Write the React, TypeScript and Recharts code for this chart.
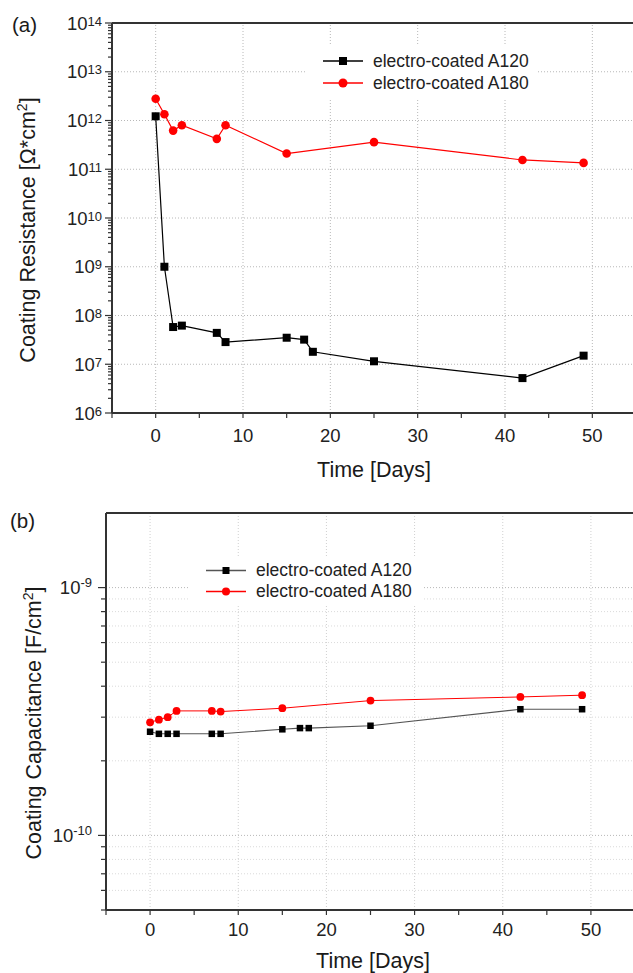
import React from 'react';
import { LineChart, Line, XAxis, YAxis, ReferenceLine, Legend } from 'recharts';

const FONT = '"Liberation Sans", Arial, Helvetica, sans-serif';

// measurement days
const daysA120 = [0, 1, 2, 3, 7, 8, 15, 17, 18, 25, 42, 49];
const daysA180 = [0, 1, 2, 3, 7, 8, 15, 25, 42, 49];

// (a) coating resistance, Ohm*cm^2
const resistanceA120 = [1.22e12, 1.0e9, 5.8e7, 6.2e7, 4.4e7, 2.85e7, 3.5e7, 3.2e7, 1.8e7, 1.15e7, 5.2e6, 1.5e7];
const resistanceA180 = [2.8e12, 1.34e12, 6.2e11, 8.0e11, 4.2e11, 8.0e11, 2.1e11, 3.6e11, 1.55e11, 1.35e11];

// (b) coating capacitance, F/cm^2
const capacitanceA120 = [2.62e-10, 2.57e-10, 2.57e-10, 2.57e-10, 2.57e-10, 2.57e-10, 2.68e-10, 2.71e-10, 2.71e-10, 2.77e-10, 3.23e-10, 3.23e-10];
const capacitanceA180 = [2.86e-10, 2.93e-10, 3.0e-10, 3.18e-10, 3.18e-10, 3.16e-10, 3.26e-10, 3.5e-10, 3.62e-10, 3.68e-10];

const dayTicks = [-5, 0, 5, 10, 15, 20, 25, 30, 35, 40, 45, 50, 55];
const dayLabels = [0, 10, 20, 30, 40, 50];
const resistanceDecades = [1e6, 1e7, 1e8, 1e9, 1e10, 1e11, 1e12, 1e13, 1e14];
const minorSteps = [2, 3, 4, 5, 6, 7, 8, 9];
const capacitanceDecades = [1e-10, 1e-9];
const capacitanceMinor = [5e-11, 6e-11, 7e-11, 8e-11, 9e-11, 2e-10, 3e-10, 4e-10, 5e-10, 6e-10, 7e-10, 8e-10, 9e-10];

const legendNames = ['electro-coated A120', 'electro-coated A180'];

const resistanceMinor = resistanceDecades.slice(0, -1).flatMap(d => minorSteps.map(m => d * m));
const resistanceTicks = [...resistanceDecades, ...resistanceMinor].sort((a, b) => a - b);
const capacitanceTicks = [...capacitanceDecades, ...capacitanceMinor].sort((a, b) => a - b);

const toPoints = (days: number[], values: number[]) => days.map((day, i) => ({ day, value: values[i] }));

const isDecade = (v: number) => Math.abs(Math.log10(v) - Math.round(Math.log10(v))) < 1e-6;

function PowerTick(props: any) {
  const { x, y, payload, majorLen, minorLen, gap, supShift } = props;
  const v = payload.value;
  const major = isDecade(v);
  return (
    <g>
      <line x1={x} x2={x - (major ? majorLen : minorLen)} y1={y} y2={y} stroke="#333" strokeWidth={1.2} />
      {major && (
        <text x={x - gap} y={y + 6.5} textAnchor="end" fontSize={18.5} fill="#222" fontFamily={FONT}>
          10<tspan fontSize={13} dy={supShift}>{Math.round(Math.log10(v))}</tspan>
        </text>
      )}
    </g>
  );
}

const square = (size: number) => (p: any) => (
  <rect key={`sq-${p.index}`} x={p.cx - size / 2} y={p.cy - size / 2} width={size} height={size} fill="#000" />
);

function LegendBox({ lineColor, sq, r, rowH }: any) {
  const colors = [lineColor, '#ff0000'];
  return (
    <div style={{ background: '#fff', padding: '4px 0', fontFamily: FONT, fontSize: 17.5, color: '#222' }}>
      {legendNames.map((name, i) => (
        <div key={name} style={{ display: 'flex', alignItems: 'center', height: rowH, paddingLeft: 18 }}>
          <svg width={50} height={rowH} style={{ display: 'block' }}>
            <line x1={0} x2={40} y1={rowH / 2} y2={rowH / 2} stroke={colors[i]} strokeWidth={1.3} />
            {i === 0 ? (
              <rect x={20 - sq / 2} y={rowH / 2 - sq / 2} width={sq} height={sq} fill="#000" />
            ) : (
              <circle cx={20} cy={rowH / 2} r={r} fill="#ff0000" />
            )}
          </svg>
          <span style={{ whiteSpace: 'nowrap' }}>{name}</span>
        </div>
      ))}
    </div>
  );
}

const gridStyle = { stroke: '#b8b8b8', strokeDasharray: '1 2', strokeWidth: 1 };
const axisStyle = { stroke: '#333', strokeWidth: 2 };
const xTickStyle = { fontSize: 18.5, fill: '#222', fontFamily: FONT };

const text = (style: React.CSSProperties): React.CSSProperties => ({
  position: 'absolute',
  fontFamily: FONT,
  color: '#1a1a1a',
  whiteSpace: 'nowrap',
  lineHeight: 1,
  ...style,
});

export default function App() {
  return (
    <div style={{ position: 'absolute', left: 0, top: 0, width: 633, height: 973, overflow: 'hidden', background: '#fff' }}>
      {/* (a) resistance */}
      <div style={{ position: 'absolute', left: 0, top: 0 }}>
        <LineChart width={656} height={490} margin={{ top: 23, right: 20, left: 52, bottom: 37 }}>
          <XAxis
            type="number"
            dataKey="day"
            domain={[-5, 55]}
            ticks={dayTicks}
            interval={0}
            height={40}
            axisLine={axisStyle}
            tickLine={{ stroke: '#333', strokeWidth: 1.2 }}
            tickSize={5}
            tickMargin={11}
            tick={xTickStyle}
            tickFormatter={(v: number) => (dayLabels.includes(v) ? String(v) : '')}
          />
          <YAxis
            type="number"
            scale="log"
            domain={[1e6, 1e14]}
            allowDataOverflow
            ticks={resistanceTicks}
            interval={0}
            width={60}
            axisLine={axisStyle}
            tickLine={false}
            tickSize={0}
            tickMargin={0}
            tick={(p: any) => <PowerTick {...p} majorLen={7} minorLen={4} gap={10} supShift={-4} />}
          />
          {resistanceDecades.slice(1, -1).map(v => (
            <ReferenceLine key={`h${v}`} y={v} {...gridStyle} />
          ))}
          {dayLabels.map(d => (
            <ReferenceLine key={`v${d}`} x={d} {...gridStyle} />
          ))}
          <ReferenceLine y={1e14} stroke="#333" strokeWidth={2} />
          <ReferenceLine x={55} stroke="#333" strokeWidth={2} />
          <Legend
            layout="vertical"
            align="center"
            verticalAlign="middle"
            wrapperStyle={{ left: 305, top: 46, width: 232 }}
            content={() => <LegendBox lineColor="#000" sq={8} r={4.5} rowH={22} />}
          />
          <Line
            data={toPoints(daysA120, resistanceA120)}
            dataKey="value"
            stroke="#000"
            strokeWidth={1.2}
            dot={square(8)}
            activeDot={false}
            isAnimationActive={false}
          />
          <Line
            data={toPoints(daysA180, resistanceA180)}
            dataKey="value"
            stroke="#ff0000"
            strokeWidth={1.2}
            dot={{ r: 4.3, fill: '#ff0000', stroke: 'none' }}
            activeDot={false}
            isAnimationActive={false}
          />
        </LineChart>
      </div>

      {/* (b) capacitance */}
      <div style={{ position: 'absolute', left: 0, top: 490 }}>
        <LineChart width={655} height={490} margin={{ top: 23, right: 20, left: 46, bottom: 30 }}>
          <XAxis
            type="number"
            dataKey="day"
            domain={[-5, 55]}
            ticks={dayTicks}
            interval={0}
            height={40}
            axisLine={axisStyle}
            tickLine={{ stroke: '#333', strokeWidth: 1.2 }}
            tickSize={5}
            tickMargin={8}
            tick={xTickStyle}
            tickFormatter={(v: number) => (dayLabels.includes(v) ? String(v) : '')}
          />
          <YAxis
            type="number"
            scale="log"
            domain={[5e-11, 2e-9]}
            allowDataOverflow
            ticks={capacitanceTicks}
            interval={0}
            width={60}
            axisLine={axisStyle}
            tickLine={false}
            tickSize={0}
            tickMargin={0}
            tick={(p: any) => <PowerTick {...p} majorLen={8} minorLen={5} gap={14} supShift={-7} />}
          />
          {capacitanceMinor.slice(1).map(v => (
            <ReferenceLine key={`m${v}`} y={v} stroke="#dadada" strokeDasharray="1 2" />
          ))}
          {capacitanceDecades.map(v => (
            <ReferenceLine key={`h${v}`} y={v} {...gridStyle} />
          ))}
          {dayLabels.map(d => (
            <ReferenceLine key={`v${d}`} x={d} stroke="#d0d0d0" strokeDasharray="1 2" />
          ))}
          <ReferenceLine y={2e-9} stroke="#333" strokeWidth={2} />
          <ReferenceLine x={55} stroke="#333" strokeWidth={2} />
          <Legend
            layout="vertical"
            align="center"
            verticalAlign="middle"
            wrapperStyle={{ left: 188, top: 66, width: 235 }}
            content={() => <LegendBox lineColor="#555" sq={7} r={4} rowH={21} />}
          />
          <Line
            data={toPoints(daysA120, capacitanceA120)}
            dataKey="value"
            stroke="#555"
            strokeWidth={1.1}
            dot={square(6.5)}
            activeDot={false}
            isAnimationActive={false}
          />
          <Line
            data={toPoints(daysA180, capacitanceA180)}
            dataKey="value"
            stroke="#ff0000"
            strokeWidth={1}
            dot={{ r: 3.9, fill: '#ff0000', stroke: 'none' }}
            activeDot={false}
            isAnimationActive={false}
          />
        </LineChart>
      </div>

      <div style={text({ left: 12, top: 15, fontSize: 20.5 })}>(a)</div>
      <div style={text({ left: 10, top: 511, fontSize: 20.5 })}>(b)</div>

      <div style={text({ left: 29, top: 230, fontSize: 21.5, transform: 'translate(-50%, -50%) rotate(-90deg)' })}>
        Coating Resistance [Ω*cm<sup style={{ fontSize: 14, lineHeight: 0 }}>2</sup>]
      </div>
      <div style={text({ left: 35, top: 723, fontSize: 21.5, transform: 'translate(-50%, -50%) rotate(-90deg)' })}>
        Coating Capacitance [F/cm<sup style={{ fontSize: 14, lineHeight: 0 }}>2</sup>]
      </div>

      <div style={text({ left: 374, top: 471, fontSize: 21.5, transform: 'translate(-50%, -50%)' })}>Time [Days]</div>
      <div style={text({ left: 373, top: 962, fontSize: 21.5, transform: 'translate(-50%, -50%)' })}>Time [Days]</div>
    </div>
  );
}
